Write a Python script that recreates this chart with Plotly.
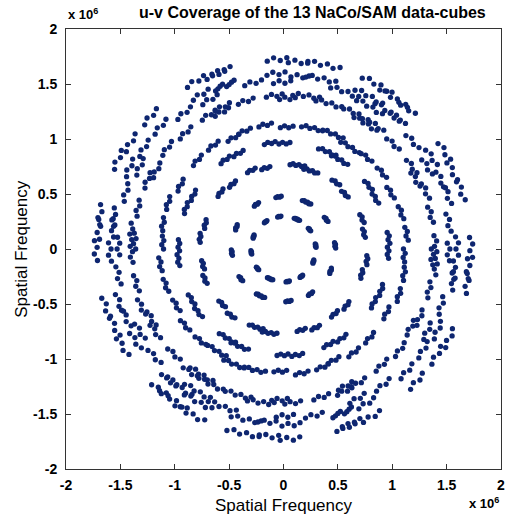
import numpy as np
import plotly.graph_objects as go

# Mask baselines: length (x 1e6 spatial-frequency units) and position angle (deg)
baseline_len = [0.30, 0.48,
                0.76, 0.78,
                0.97, 0.98,
                1.12, 1.15, 1.14,
                1.38, 1.41, 1.40, 1.42,
                1.53, 1.55,
                1.59, 1.61, 1.60,
                1.72, 1.74, 1.73]
baseline_pa = [6.0, 4.0,
               11.0, 21.0,
               -2.0, 6.0,
               -3.0, 7.0, 17.0,
               -3.0, 2.0, 13.0, 22.0,
               -1.0, 9.0,
               -7.0, 1.0, 18.0,
               -6.0, 0.5, 18.0]

# Sky rotation of each of the 13 data-cubes (deg)
cube_rotation = [-2.0, 2.0, 28.5, 32.5, 55.5, 59.5, 63.5,
                 89.5, 93.5, 115.5, 119.5, 149.5, 153.5]
# Frames inside a cube: extra rotation (deg) and relative baseline scale
frame_offset = [-1.0, 1.0]
frame_scale = [1.0, 0.985]

u_pts, v_pts = [], []
for length, pa in zip(baseline_len, baseline_pa):
    for rot in cube_rotation:
        for off, sc in zip(frame_offset, frame_scale):
            ang = np.deg2rad(pa + rot + off)
            u, v = length * sc * np.cos(ang), length * sc * np.sin(ang)
            # each baseline samples (u, v) and its conjugate (-u, -v)
            u_pts += [u, -u]
            v_pts += [v, -v]

scale = 1e6
u_pts = np.array(u_pts) * scale
v_pts = np.array(v_pts) * scale

tick_vals = [-2, -1.5, -1, -0.5, 0, 0.5, 1, 1.5, 2]
tick_text = ["-2", "-1.5", "-1", "-0.5", "0", "0.5", "1", "1.5", "2"]

fig = go.Figure()
fig.add_trace(go.Scatter(
    x=u_pts, y=v_pts, mode="markers",
    marker=dict(size=5.3, color="rgb(14,38,112)", line=dict(width=0)),
    showlegend=False, hoverinfo="skip",
))

axis_style = dict(
    range=[-2 * scale, 2 * scale],
    tickvals=[t * scale for t in tick_vals],
    ticktext=tick_text,
    ticks="inside", ticklen=5, tickwidth=1, tickcolor="#333",
    showline=True, linecolor="#333", linewidth=1, mirror="ticks",
    showgrid=False, zeroline=False,
    tickfont=dict(family="Liberation Sans, Arial, sans-serif", size=14,
                  color="black", weight="bold"),
)

fig.update_layout(
    width=514, height=517, autosize=False,
    margin=dict(l=66, r=9, t=29, b=48),
    paper_bgcolor="white", plot_bgcolor="white",
    xaxis=dict(**axis_style, ticklabelstandoff=3),
    yaxis=dict(**axis_style, ticklabelstandoff=5),
    font=dict(family="Liberation Sans, Arial, sans-serif", color="black"),
)

ann_font = dict(family="Liberation Sans, Arial, sans-serif", color="black")
fig.add_annotation(text="u-v Coverage of the 13 NaCo/SAM data-cubes",
                   xref="paper", yref="paper", x=0.567, y=1.038,
                   xanchor="center", yanchor="middle", showarrow=False,
                   font=dict(**ann_font, size=16, weight="bold"))
fig.add_annotation(text="x 10<sup>6</sup>", xref="paper", yref="paper",
                   x=0.0, y=1.034, xanchor="left", yanchor="middle",
                   showarrow=False, font=dict(**ann_font, size=13, weight="bold"))
fig.add_annotation(text="x 10<sup>6</sup>", xref="paper", yref="paper",
                   x=1.0, y=-0.078, xanchor="right", yanchor="middle",
                   showarrow=False, font=dict(**ann_font, size=13, weight="bold"))
fig.add_annotation(text="Spatial Frequency", xref="paper", yref="paper",
                   x=0.5, y=-0.084, xanchor="center", yanchor="middle",
                   showarrow=False, font=dict(**ann_font, size=17))
fig.add_annotation(text="Spatial Frequency", xref="paper", yref="paper",
                   x=-0.104, y=0.5, xanchor="center", yanchor="middle",
                   textangle=-90, showarrow=False, font=dict(**ann_font, size=17))

fig.write_html("out.html")
